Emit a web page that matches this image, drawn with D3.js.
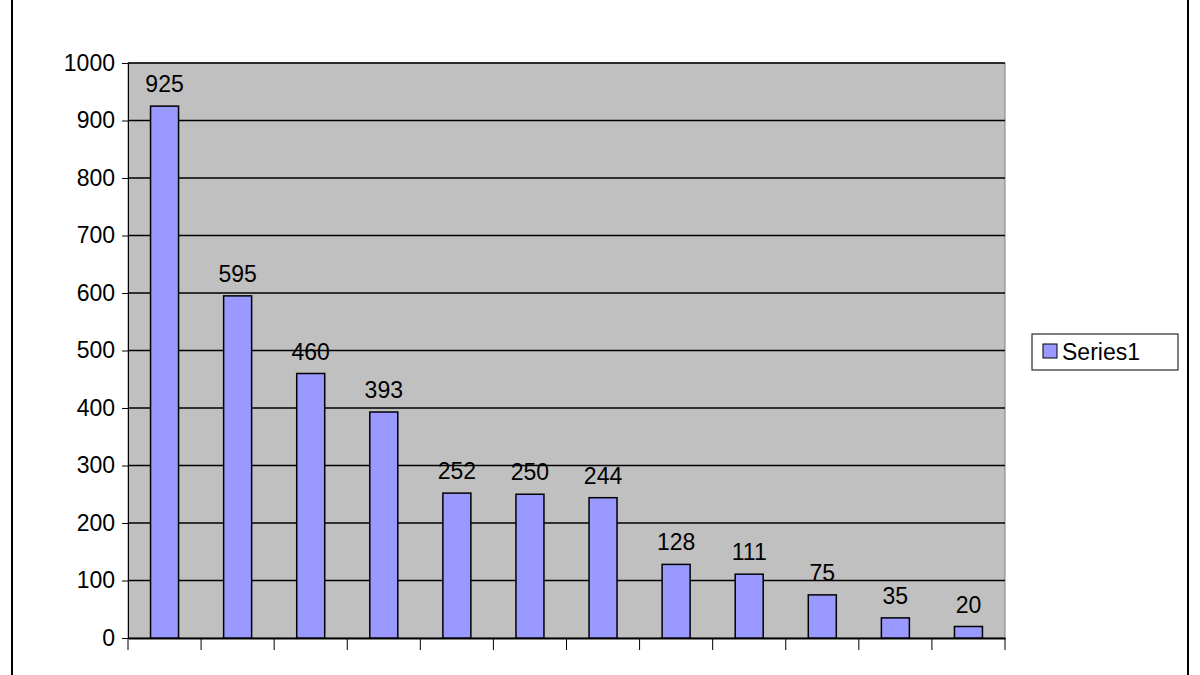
<!DOCTYPE html><html><head><meta charset="utf-8"><script src="https://cdn.jsdelivr.net/npm/d3@7"></script>
<style>body{margin:0;background:#fff}text{font-family:Arial,"Liberation Sans",sans-serif}</style></head><body><svg id="c" width="1200" height="675"></svg><script>
const categories=["1","2","3","4","5","6","7","8","9","10","11","12"];
const values=[925,595,460,393,252,250,244,128,111,75,35,20];
const yTicks=[0,100,200,300,400,500,600,700,800,900,1000];
const seriesName="Series1";
const svg=d3.select("#c");
svg.append("rect").attr("x",12).attr("y",-5).attr("width",1176).attr("height",700).attr("fill","#fff").attr("stroke","#000").attr("stroke-width",2);
const L=128,R=1005,T=63,B=638;
const x=d3.scaleBand().domain(categories).range([L,R]);
const y=d3.scaleLinear().domain([0,1000]).range([B,T]);
svg.append("rect").attr("x",L).attr("y",T).attr("width",R-L).attr("height",B-T).attr("fill","#c0c0c0").attr("stroke","#808080");
svg.selectAll(".g").data(yTicks.filter(d=>d>0)).join("line").attr("x1",L).attr("x2",R).attr("y1",d=>y(d)).attr("y2",d=>y(d)).attr("stroke","#000").attr("stroke-width",1.5);
const ya=svg.append("g").attr("transform",`translate(${L},0)`).call(d3.axisLeft(y).tickValues(yTicks).tickSize(6).tickFormat(d3.format("d")));
ya.selectAll("text").attr("font-size",23).attr("fill","#000").attr("dx",-4);
ya.select(".domain").attr("stroke","#000");
const xa=svg.append("g").attr("transform",`translate(0,${B})`).call(d3.axisBottom(x).tickValues([]).tickSizeOuter(0));
xa.select(".domain").attr("stroke","#000").attr("stroke-width",2);
svg.selectAll(".xt").data(d3.range(categories.length+1)).join("line").attr("x1",i=>L+i*x.step()).attr("x2",i=>L+i*x.step()).attr("y1",B).attr("y2",B+12).attr("stroke","#000");
const bw=28;
svg.selectAll(".b").data(values).join("rect").attr("x",(d,i)=>x(categories[i])+x.bandwidth()/2-bw/2).attr("y",d=>y(d)).attr("width",bw).attr("height",d=>B-y(d)).attr("fill","#9999ff").attr("stroke","#000").attr("stroke-width",1.5);
svg.selectAll(".l").data(values).join("text").attr("x",(d,i)=>x(categories[i])+x.bandwidth()/2).attr("y",d=>y(d)-14).attr("text-anchor","middle").attr("font-size",23).text(d=>d);
svg.append("rect").attr("x",1032).attr("y",334).attr("width",146).attr("height",36).attr("fill","#fff").attr("stroke","#000");
svg.append("rect").attr("x",1043).attr("y",344).attr("width",14).attr("height",14).attr("fill","#9999ff").attr("stroke","#000");
svg.append("text").attr("x",1062).attr("y",360).attr("font-size",23).text(seriesName);
</script></body></html>
